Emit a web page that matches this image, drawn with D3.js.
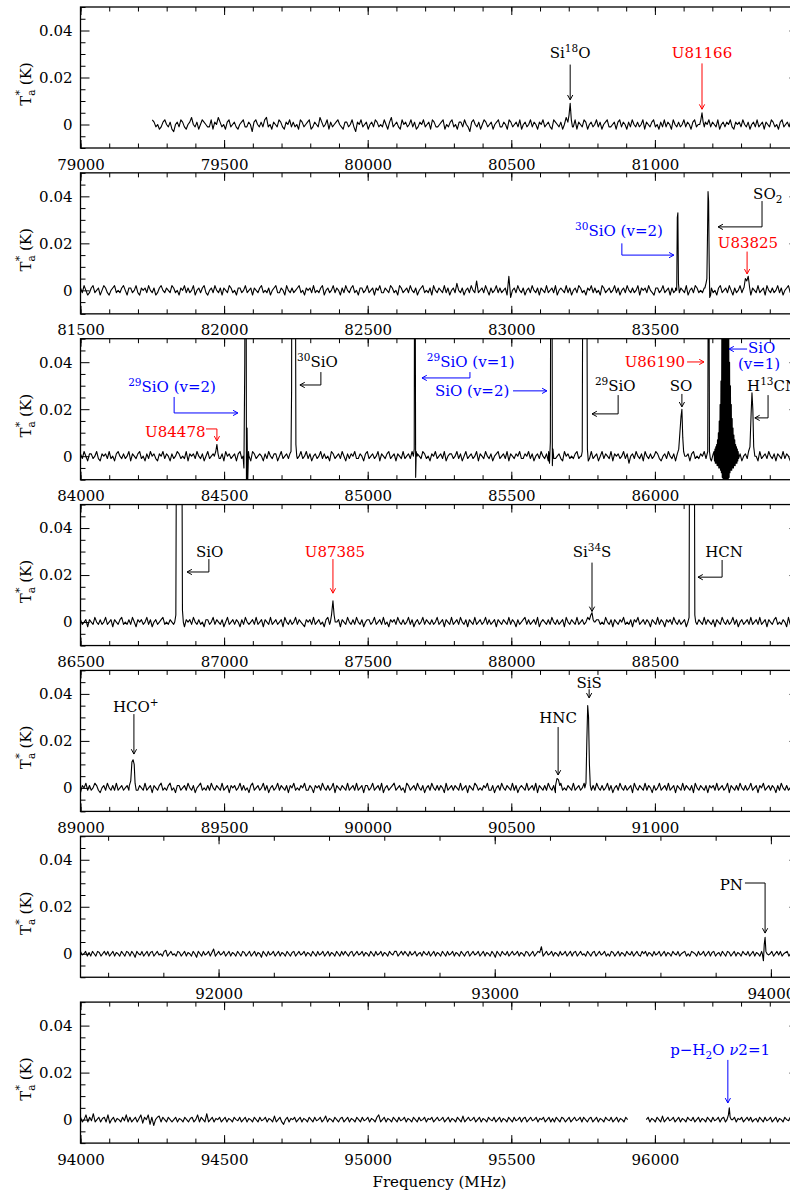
<!DOCTYPE html>
<html>
<head>
<meta charset="utf-8">
<script src="https://cdn.jsdelivr.net/npm/d3@7"></script>
<style>
  body { margin: 0; background: #fff; }
  svg { display: block; }
  text { font-family: "DejaVu Serif", serif; }
</style>
</head>
<body>
<svg id="chart" width="790" height="1191"></svg>
<script>
// ---------------------------------------------------------------
// Baseline channels of each sub-band, antenna temperature in mK.
// Each list is spread evenly between its first and last frequency.
// ---------------------------------------------------------------
const noise1 = [
  2,1,-1,0,-2,-1,1,2,0,-1,1,-2,-3,0,1,-1,2,1,-1,-2,0,1,3,0,
  -1,1,-2,0,2,1,0,-1,-1,2,-2,1,0,3,1,-1,0,-2,1,2,-1,0,1,-1,
  -2,0,1,2,-1,-1,1,0,-3,1,2,0,-1,1,-1,2,3,-1,0,-2,1,0,-1,2,
  1,-1,-2,1,0,2,-1,1,-1,0,-2,2,1,-1,0,1,2,-2,-1,1,0,-1,3,1,
  -1,0,2,-2,1,-1,0,1,2,0,-1,-2,1,1,-1,0,2,-1,-3,1,0,2,-1,0,
  1,-2,0,1,-1,2,1,-1,0,-1,2,0,-2,1,3,-1,0,1,-1,-2,2,0,1,-1,
  0,2,-1,1,-2,-1,1,0,2,-1,0,1,-2,2,1,-1,-1,0,1,2,-2,0,-1,1,
  2,-1,0,-2,1,1,-1,2,0,-1,-3,1,2,0,-1,1,-2,0,2,1,-1,0,1,-2,
  0,1,2,-1,-1,1,0,-2,2,1,-1,0,1,-1,2,-2,0,1,-1,0,2,-1,1,0,
  -2,1,0,2,-1,0,1,-1,-2,2,1,0,-1,1,-2,0,3,-1,0,1,-1,2,-2,1,
  0,-1,2,1,-2,0,1,-1,0,2,-1,1,-2,0,1,2,-1,-1,0,1,-2,1,2,-1,
  1,0,-2,1,-1,2,0,-1,1,-1,0,2,-2,1,0,-1,1,2,-1,0,-2,1,-1,2,
  -1,1,0,-2,2,0,-1,1,-1,0,2,-1,1,0,-2,1,2,-1,0,1,-1,-2,1,0,
  2,-1,1,0,-1,2,-2,0,1,-1,1,0,2,-1,-2,1,0,1,-1,2,0,-1,1,-2,
  0,1,-1,2,-1,0,1,-2,1,0,-1,2,1,-1,0,-2,1,2,-1,0,1,-1,2,0
];
const noise2 = [
  1,-1,2,0,-2,-1,1,2,-1,0,1,-2,0,2,1,-1,-2,0,1,2,-1,0,-1,1,2,
  0,-2,1,1,-1,0,2,-1,-2,1,0,1,-1,2,0,-1,1,-2,-1,1,2,0,-1,1,0,
  -1,2,1,-1,0,-2,1,0,2,-1,1,-1,0,2,-2,0,1,-1,1,2,-1,-2,0,1,-1,
  2,0,-1,1,-2,1,0,-1,2,1,-1,0,-2,1,1,-1,0,2,-1,0,1,-2,1,0,-1,
  1,2,-1,0,-1,1,-2,0,1,2,-1,-1,1,0,-2,2,0,-1,1,-1,0,1,2,-1,0,
  -2,1,0,1,-1,2,-1,0,-1,1,2,-2,0,1,-1,0,2,-1,1,0,-2,1,-1,2,0,
  -1,1,2,-1,0,-2,1,1,-1,0,2,-1,0,1,-2,1,0,2,-1,-1,1,0,-1,2,1,
  -1,0,-2,2,1,-1,0,1,-1,2,0,-1,1,-2,0,1,2,-1,0,-1,1,-2,2,0,-1,
  1,0,-1,2,-1,1,-2,0,1,-1,3,0,-1,1,-2,0,1,-1,2,0,-1,4,-1,0,1,
  -1,2,0,-2,1,-1,0,2,-1,1,-1,0,1,-2,6,-3,0,1,-1,2,0,-1,1,-2,0,
  1,-1,2,0,-1,1,-2,1,0,-1,2,-1,0,1,-1,2,-2,0,1,0,-1,2,-1,1,-2,
  0,1,-1,2,1,-1,0,-2,1,0,2,-1,1,-1,0,-2,2,1,-1,0,1,-1,0,2,-1,
  1,-2,0,1,-1,2,0,-1,1,-1,0,2,-2,1,0,1,-1,2,0,-1,-2,1,1,-1,0,
  2,-1,0,1,-2,1,-1,0,2,-1,1,0,-1,2,-2,0,1,-1,2,1,-1,0,-1,1,0,
  -1,2,1,-1,0,-2,1,2,-1,0,1,-1,2,0,-2,1,-1,0,2,-1,1,0,-1,2,-2,
  1,0,-1,2,-1,0,1,-2,2,0,-1,1,-1,0,2,-1,1,-2,0,1,2,-1,0,1,-1
];
const noise3 = [
  1,-1,2,0,-2,1,1,-1,0,2,-1,-2,1,0,1,-1,2,-1,0,-2,1,2,0,-1,1,
  -1,0,2,-2,1,0,-1,1,2,-1,0,-2,1,-1,2,0,1,-1,-2,1,0,2,-1,1,0,
  -2,1,-1,0,2,1,-1,0,-1,2,-2,1,0,1,-1,2,0,-1,1,-2,0,2,-1,0,1,
  2,-1,0,-1,1,-2,2,0,1,-1,0,1,-2,1,2,-1,0,-1,1,0,-2,2,1,-1,0,
  1,0,-2,1,-1,2,0,-1,1,1,-2,0,2,-1,0,1,-1,2,-2,0,1,-1,0,2,-1,
  0,2,-1,1,-2,0,1,-1,0,2,-1,1,-1,0,-2,2,1,-1,0,1,-1,2,0,-2,1,
  -1,1,0,2,-1,-1,1,0,-2,1,2,-1,0,1,-1,0,2,-2,1,0,-1,1,2,-1,0,
  1,-2,1,0,-1,2,-1,0,1,-1,2,0,-2,1,0,-1,2,1,-1,0,-2,1,0,2,-1,
  0,1,-1,2,-2,0,1,1,-1,0,2,-1,1,-2,0,2,-1,0,1,-1,0,2,-2,1,0,
  -1,2,0,-1,1,-2,0,1,2,-1,0,1,-1,2,-2,1,0,-1,1,0,2,-1,-1,1,0,
  2,-1,1,-2,0,1,-1,2,0,-1,1,-2,1,0,2,-1,0,1,-1,-2,2,0,1,-1,0,
  -1,1,2,-1,0,-2,1,0,1,-1,2,-1,0,1,-2,0,2,-1,1,0,-1,2,-2,1,0,
  1,-1,0,2,-1,1,-3,0,1,-1,2,0,-1,1,-2,2,0,-1,1,-1,0,2,1,-1,-2,
  0,1,-1,2,0,-1,1,-2,1,0,-1,2,-1,0,1,-2,1,2,-1,0,-1,1,0,2,-1,
  1,0,-2,1,-1,2,0,-1,1,-2,2,0,-1,1,0,-1,2,-1,1,-2,0,1,-1,2,0,
  -1,1,0,-2,2,-1,0,1,-1,2,0,-1,1,-2,1,0,-1,2,-1,1,0,-2,1,-1,1
];
const noise4 = [
  1,-1,0,1,-2,1,0,-1,2,0,-1,1,-1,0,2,-1,0,1,-2,1,0,-1,1,2,-1,
  0,-1,1,-1,2,0,-2,1,0,1,-1,0,2,-1,1,-2,0,1,-1,0,1,2,-1,0,-1,
  1,0,-1,2,-1,1,-1,0,-2,1,0,1,-1,2,0,-1,1,-1,0,-2,1,1,-1,0,2,
  -1,1,0,-1,1,-2,0,2,-1,0,1,-1,1,0,-2,1,-1,2,0,-1,0,1,-1,2,-1,
  0,1,-2,1,0,-1,2,-1,0,1,-1,0,1,-2,2,0,-1,1,-1,0,2,-1,1,0,-1,
  -2,1,0,1,-1,2,-1,0,1,-1,0,-2,1,2,-1,0,1,-1,0,1,-2,1,0,-1,2,
  0,-1,1,-1,2,0,-1,1,-2,0,1,1,-1,0,2,-1,0,1,-1,2,-1,0,-2,1,0,
  1,-1,2,0,-1,1,-1,0,2,-1,1,-2,0,1,-1,0,2,-1,1,0,-1,1,-1,0,2,
  -1,0,1,-2,1,0,-1,2,-1,0,1,-1,2,0,-1,1,-2,1,0,-1,2,-1,0,1,-1,
  0,2,-1,1,-1,0,1,-2,1,0,-1,1,0,-1,2,-1,1,0,-2,1,-1,0,1,2,-1,
  1,-1,0,1,-1,2,-2,0,1,0,-1,1,-1,2,0,-1,1,-1,0,1,-2,2,0,-1,1,
  0,-1,2,-1,0,1,-1,0,2,-1,1,-2,0,1,1,-1,0,-1,2,0,-1,1,-2,1,0,
  -1,1,0,2,-1,0,-1,1,-2,1,0,2,-1,0,1,-1,1,0,-2,1,0,-1,2,-1,1,
  0,-2,1,0,1,-1,2,0,-1,1,-1,0,1,-2,1,0,2,-1,0,-1,1,0,-1,2,-1,
  1,0,-1,1,-2,1,0,-1,2,0,-1,1,-1,0,2,-1,1,-2,0,1,-1,0,1,-1,2,
  -1,0,1,-1,2,-1,0,1,-2,1,0,-1,1,2,-1,0,-1,1,0,-2,2,-1,3,-1,1
];
const noise5 = [
  -2,1,0,2,-1,1,-1,0,2,1,-1,-2,0,1,-1,2,0,-1,1,-1,2,-1,0,1,-1,
  0,1,-1,2,-2,0,1,-1,1,0,-1,2,-1,0,1,-2,1,0,-1,1,2,-1,0,-1,1,
  2,-1,0,-2,1,1,-1,0,1,-1,2,0,-1,1,-2,0,1,2,-1,0,-1,1,-1,2,0,
  -1,1,0,-1,2,-1,0,1,-2,1,0,1,-1,0,2,-1,1,-1,0,-2,1,2,-1,0,1,
  -1,0,2,-1,1,-2,0,1,-1,0,2,-1,1,0,-1,1,-2,1,0,2,-1,0,-1,1,0,
  2,-1,-1,1,0,-2,1,0,1,-1,2,0,-1,1,-1,0,2,-2,1,0,-1,1,0,-1,2,
  -1,0,1,-1,2,-1,0,1,-2,1,1,-1,0,2,-1,0,1,-1,2,-2,0,1,-1,0,1,
  2,-1,0,1,-1,0,-2,2,1,-1,0,1,-1,2,0,-1,1,-2,0,1,-1,2,0,-1,1,
  -1,1,0,-2,2,-1,0,1,-1,1,0,-1,2,-1,0,1,-2,1,0,-1,2,1,-1,0,-1,
  1,0,2,-1,-1,1,-2,0,1,-1,2,0,-1,1,0,-1,2,-1,1,-2,0,1,0,-1,2,
  -1,0,1,-1,2,-2,1,0,-1,1,-1,2,0,-1,1,-2,0,1,2,-1,0,-1,1,0,-1,
  2,-1,0,1,-1,0,2,-2,1,0,-1,1,-1,2,0,-1,1,-1,0,2,-1,1,-2,0,1,
  -1,2,0,-1,1,-1,0,1,-2,2,0,-1,1,0,-1,2,-1,1,0,-2,1,-1,0,2,-1,
  0,1,-1,2,-1,0,1,-2,1,0,-1,2,-1,1,0,-1,1,-2,2,0,-1,1,0,-1,1,
  -2,1,0,1,-1,2,-1,0,1,-1,0,2,-2,1,0,-1,1,-1,2,0,-1,1,-1,0,2,
  -1,0,1,-2,1,0,2,-1,0,1,-1,1,0,-2,1,-1,2,0,-1,1,-1,0,2,-1,0
];
const noise6 = [
  1,-0.5,0,1,-1,0.5,-1,1,0,-1,1,0.5,-1,0,1,-0.5,1,-1,0,1,-1,0.5,0,-1,1,
  0,-1,1,0.5,-1,1,0,-1.5,1,0,-0.5,1,-1,0,1,-1,0.5,1,-1,0,1,-0.5,0,-1,1,
  1.5,-1,0,1,-0.5,0,-1,1,0.5,-1,0,1,-1,0.5,0,-1,1,0,-1.5,1,0,-1,1,-0.5,0,
  1,-1,0.5,2,-1,0,1,-0.5,0,1,-1,0,1,-1,0.5,0,-1,1,0,-1,1,0.5,-1,0,1,
  -1,0,1,-1,0.5,0,-1.5,1,0,-1,1,-0.5,0,1,-1,0,1,-1,0.5,0,-1,1,0,-1,0.5,
  1,-1,0,1,-0.5,0,1,-1,0.5,0,-1,1,0,-1,1,-0.5,0,1,-1,0,1,-1,0.5,0,-1,
  1,0,-1,1,-0.5,1,0,-1,0.5,1,-1,0,1,-0.5,0,1,-1,0.5,0,-1,1,0,-1,1,-0.5,
  0,1,-1,0.5,0,-1,1,0,-0.5,1,1,-1,0,1,-0.5,1,0,-1,1,-0.5,0,1,-1,0,0.5,
  -1,1,0,-0.5,1,-1,0,1,-1,0.5,0,-1,1,0,-1,1,-0.5,0,1,-1,0.5,0,-1,1,0,
  -1,0.5,1,-1,0,1,-0.5,0,1,-1,0,1,-1,0.5,0,-1,1,0,-1.5,1,0,-1,1,0,-0.5,
  1,-1,0,1,-0.5,0,1,-1,0.5,0,-1,1,0.5,-1,0,1,-1,0,1,0.5,3,-1,0,1,-0.5,
  0,1,-1,0.5,0,-1,1,-0.5,0,1,-1,0,1,-1,0.5,1,-1,0,1,-0.5,0,-1,1,0,-1,
  0.5,1,-1,0,1,-0.5,0,1,-1,0,-1,1,0.5,-1,0,1,-1,0.5,0,-1,1,0,-0.5,1,-1,
  0,1,-0.5,-1,1,0,1,-1,0.5,0,-1,1,-0.5,0,1,-1,0,1,-1,0.5,0,-1,1,0,-0.5,
  1,-1,0,0.5,1,-1,0,-1,1,0.5,0,-1,1,-0.5,0,1,-1,0,1,-1,0.5,1,-1,0,0.5,
  -1,1,0,-1,1,0.5,-1,0,1,-1,0.5,0,-1,1,0,-0.5,1,-1,0,1,-1,0.5,0,-1,1,
  0,-1,1,-0.5,0,1,-1,0,1,-0.5,1,-1,0,0.5,1,-1,0,1,-1,0.5
];
const noise7a = [
  1,-1,0,2,-1,1,-0.5,2.5,-1,0,1,-1,0.5,1,-1,2,-1.5,0,1,-1,0.5,0,-1,1,-0.5,
  2,-1,1,-1,0,1,-1,0.5,2,-1.5,1,0,2,-2,1,-2.5,0,1,1.5,-1,1,0,-1,1,0,
  -1,0,1,-1,0.5,0,-1,1,0,-1,0.5,1,-1,0,2,-1,1,0,-1,2.5,-1,0,1,-1,0.5,
  0,1,-1,0,1,-1,0.5,0,-1,1,0,-0.5,1,-1,0,1,-1,0.5,0,-1,1,0,-1,1,-0.5,
  0,1,-1,0.5,0,-1,1.5,-1,0,1,-1,-2,0,1,-1,0.5,0,1,-1,0,1,-1,0.5,0,-1,
  1,0,-1,1,-0.5,0,1,-1,0,1.5,-1,0.5,0,-1,1,0,-1,0.5,1,-1,0,1,-1,0.5,0,
  -1,1,0,-1,1,-0.5,0,1,-1,0.5,0,-1,1,2,-1,0,1,-1,0.5,0,-1,1,0,-1,1,
  -0.5,0,1,-1,0.5,0,-1,1,0,-1,1,-0.5,0,1,-1,0.5,0,1,-1,0,1,-0.5,0,1,-1,
  0,1,-1,0.5,0,-1,1,0,-1,1.5,-1,0,1,-0.5,0,1,-1,0,1,-1,0.5,0,-1,1,0,
  -0.5,1,-1,0,1,-1,0.5,0,-1,1,0,-1,1,-0.5,0,1,-1,0.5,1,-1,0,1,-0.5,0,1,
  -1,0.5,0,1,-1,0,1,-1,0.5,-1,1,0,-1,1,0.5,-1,0,1,-1,0,1,-0.5,0,1,-1,
  1,0,-1,0.5,1,-1,0,1,-1,0.5,0,-1,1,0,-0.5,1,-1,0,1,-1,0.5,0,-1,1,0
];
const noise7b = [
  0,1,-1,0.5,0,-1,1,0,-1,1.5,-1,0,1,-0.5,0,1,-1,0,1,-1,0.5,0,-1,1,0,
  -0.5,1,-1,0,1,-1,0.5,0,-1,1,0,-1,1,-0.5,0,1,-1,0.5,1,-1,0,1,-0.5,0,1,
  -1,0.5,0,1,-1,0,1,-0.5,1,-1,0,0.5,-1,1,0,-1,1,-0.5,0,1,-1,0,1,-1,0.5,
  0,-1,1,0,-0.5,1,-1,0,1
];

// ---------------------------------------------------------------
// Emission / maser line profiles: [frequency MHz, T in mK]
// ---------------------------------------------------------------
const lines1 = [
  [[80697,1],[80701,4],[80705,9],[80709,2],[80713,-1]],                        // Si18O
  [[81156,0],[81160,2],[81164,5],[81168,1],[81172,-1]]                         // U81166
];
const lines2 = [
  [[83572,1],[83576,0],[83578,31],[83580,33],[83582,3],[83585,-1]],            // 30SiO v=2
  [[83674,1],[83678,3],[83681,5],[83683,22],[83685,42],[83687,38],[83689,12],[83691,-3],[83694,-2]], // SO2
  [[83810,1],[83815,5],[83820,4],[83825,6],[83830,1]]                          // U83825
];
const lines3 = [
  [[84466,0],[84471,2],[84475,5],[84479,1],[84483,-1]],                        // U84478
  [[84566,0],[84569,-5],[84572,40],[84574,160],[84576,150],[84578,-30],[84580,12],[84582,-12],[84585,2]], // 29SiO v=2
  [[84729,1],[84733,2],[84735,28],[84737,200],[84746,220],[84748,100],[84750,5],[84753,0]],             // 30SiO
  [[85159,0],[85162,3],[85164,150],[85167,-9],[85169,2],[85172,0]],            // 29SiO v=1
  [[85630,2],[85633,-3],[85636,6],[85639,200],[85641,150],[85643,-4],[85645,3],[85648,-1]],             // SiO v=2
  [[85744,0],[85747,2],[85749,90],[85752,150],[85760,150],[85763,80],[85765,3],[85768,-2]],             // 29SiO
  [[86078,1],[86083,3],[86087,10],[86091,17],[86094,20],[86097,8],[86100,2],[86104,0]],                 // SO
  [[86180,0],[86184,2],[86186,90],[86188,90],[86190,2],[86193,-1]],            // U86190
  [[86206,2],[86207.5,-2],[86209,3],[86210.5,-3],[86212,4],[86213.5,-3],[86215,5],[86216.5,-4],
   [86218,7],[86219.5,-4],[86221,10],[86222.5,-5],[86224,15],[86225.5,-5],[86227,22],[86228.5,-6],
   [86230,32],[86231.5,-7],[86233,50],[86234.5,-9],[86236,75],[86237.5,-12],[86239,120],[86240.5,-18],
   [86242,200],[86243.5,-30],[86245,400],[86246.5,-45],[86248,300],[86249.5,-28],[86251,150],[86252.5,-16],
   [86254,90],[86255.5,-11],[86257,60],[86258.5,-9],[86260,40],[86261.5,-7],[86263,30],[86264.5,-6],
   [86266,22],[86267.5,-6],[86269,16],[86270.5,-5],[86272,12],[86273.5,-5],[86275,9],[86276.5,-4],
   [86278,7],[86279.5,-4],[86281,5],[86282.5,-3],[86284,4],[86285.5,-3],[86287,3],[86288.5,-2],
   [86290,2],[86291.5,-1]],                                                    // SiO v=1 maser
  [[86326,2],[86331,4],[86335,18],[86338,27],[86341,20],[86344,4],[86348,0]]   // H13CN
];
const lines4 = [
  [[86828,0],[86832,3],[86835,120],[86838,250],[86849,250],[86852,120],[86855,5],[86858,0]],            // SiO
  [[87370,0],[87374,3],[87379,9],[87383,3],[87387,0]],                         // U87385
  [[88272,1],[88277,3],[88281,4],[88285,1],[88289,0]],                         // Si34S
  [[88615,0],[88619,2],[88622,150],[88626,300],[88632,300],[88636,150],[88639,3],[88642,0]]             // HCN
];
const lines5 = [
  [[89170,1],[89175,3],[89179,11],[89183,12],[89187,10],[89190,2],[89194,-1]], // HCO+
  [[90654,1],[90659,4],[90664,3.5],[90669,1]],                                 // HNC
  [[90756,0],[90760,2],[90763,20],[90766,35],[90769,30],[90772,10],[90775,1],[90779,-1]]                // SiS
];
const lines6 = [
  [[93969,0],[93973,-3],[93976,4],[93979,7],[93982,1],[93986,0]]               // PN
];
const lines7 = [
  [[96251,0],[96256,2],[96259,5],[96262,1],[96266,0]]                          // p-H2O v2=1
];

// Axis tick values (mK on the temperature axis)
const yMajor = [0, 20, 40];
const yMinor = [-10, -5, 5, 10, 15, 25, 30, 35, 45, 50];

// ---------------------------------------------------------------
// Line identifications: label pieces, text anchor and leader line
// (in MHz / mK). Piece flags: 1 = superscript, -1 = subscript.
// ---------------------------------------------------------------
const RED = "#ff0000", BLUE = "#0000ff", BLACK = "#000000";
const notes1 = [
  { parts: [["Si"], ["18", 1], ["O"]], at: [80705, 28.5], anchor: "middle", color: BLACK, path: [[80705, 25.5], [80705, 10.5]] },
  { parts: [["U81166"]], at: [81164, 28.5], anchor: "middle", color: RED, path: [[81164, 26], [81164, 6.5]] }
];
const notes2 = [
  { parts: [["SO"], ["2", -1]], at: [83842, 39], anchor: "start", color: BLACK, path: [[83873, 38], [83873, 27], [83720, 27]] },
  { parts: [["30", 1], ["SiO (v=2)"]], at: [83222, 23], anchor: "start", color: BLUE, path: [[83385, 20], [83385, 15], [83566, 15]] },
  { parts: [["U83825"]], at: [83824, 18], anchor: "middle", color: RED, path: [[83821, 16.5], [83821, 7]] }
];
const notes3 = [
  { parts: [["29", 1], ["SiO (v=2)"]], at: [84166, 27.3], anchor: "start", color: BLUE, path: [[84326, 25.2], [84326, 18.4], [84548, 18.4]] },
  { parts: [["U84478"]], at: [84225, 8.2], anchor: "start", color: RED, path: [[84437, 11.6], [84475, 11.6], [84475, 6.5]] },
  { parts: [["30", 1], ["SiO"]], at: [84754, 38], anchor: "start", color: BLACK, path: [[84837, 35.8], [84837, 30.3], [84764, 30.3]] },
  { parts: [["29", 1], ["SiO (v=1)"]], at: [85206, 38], anchor: "start", color: BLUE, path: [[85356, 35.8], [85356, 33.3], [85189, 33.3]] },
  { parts: [["SiO (v=2)"]], at: [85234, 25.6], anchor: "start", color: BLUE, path: [[85506, 27.8], [85624, 27.8]] },
  { parts: [["29", 1], ["SiO"]], at: [85791, 27.7], anchor: "start", color: BLACK, path: [[85872, 26], [85872, 18], [85781, 18]] },
  { parts: [["SO"]], at: [86091, 27.7], anchor: "middle", color: BLACK, path: [[86094, 26.5], [86094, 21]] },
  { parts: [["U86190"]], at: [86105, 38], anchor: "end", color: RED, path: [[86112, 40.1], [86171, 40.1]] },
  { parts: [["SiO"]], at: [86324, 44.0], anchor: "start", color: BLUE, path: [[86321, 45.6], [86258, 45.6]] },
  { parts: [["(v=1)"]], at: [86289, 37.0], anchor: "start", color: BLUE },
  { parts: [["H"], ["13", 1], ["CN"]], at: [86321, 27.7], anchor: "start", color: BLACK, path: [[86394, 26], [86394, 16.3], [86348, 16.3]] }
];
const notes4 = [
  { parts: [["SiO"]], at: [86902, 27.7], anchor: "start", color: BLACK, path: [[86947, 26.8], [86947, 21.3], [86871, 21.3]] },
  { parts: [["U87385"]], at: [87386, 27.7], anchor: "middle", color: RED, path: [[87379, 26.8], [87379, 12.3]] },
  { parts: [["Si"], ["34", 1], ["S"]], at: [88281, 27.7], anchor: "middle", color: BLACK, path: [[88281, 25.3], [88281, 4.5]] },
  { parts: [["HCN"]], at: [88675, 27.7], anchor: "start", color: BLACK, path: [[88734, 26.4], [88734, 19.1], [88650, 19.1]] }
];
const notes5 = [
  { parts: [["HCO"], ["+", 1]], at: [89113, 32.3], anchor: "start", color: BLACK, path: [[89186, 31.4], [89186, 14.4]] },
  { parts: [["HNC"]], at: [90663, 27.6], anchor: "middle", color: BLACK, path: [[90663, 25.9], [90663, 5.5]] },
  { parts: [["SiS"]], at: [90771, 42.5], anchor: "middle", color: BLACK, path: [[90771, 42], [90771, 38.3]] }
];
const notes6 = [
  { parts: [["PN"]], at: [93899, 27.1], anchor: "end", color: BLACK, path: [[93906, 30.1], [93979, 30.1], [93979, 8.8]] }
];
const notes7 = [
  { parts: [["p\u2212H"], ["2", -1], ["O "], ["\u03bd", 0, "italic"], ["2=1"]], at: [96227, 27.5], anchor: "middle", color: BLUE, path: [[96254, 25.4], [96254, 7.1]] }
];

// Sub-bands: frequency range, baseline segments, lines, labels, tick steps
const bands = [
  { lo: 79000, hi: 81500, base: [[79250, 81480, noise1]], lines: lines1, notes: notes1, major: 500, minor: 100 },
  { lo: 81500, hi: 84000, base: [[81500, 83990, noise2]], lines: lines2, notes: notes2, major: 500, minor: 100 },
  { lo: 84000, hi: 86500, base: [[84000, 86490, noise3]], lines: lines3, notes: notes3, major: 500, minor: 100 },
  { lo: 86500, hi: 89000, base: [[86500, 88990, noise4]], lines: lines4, notes: notes4, major: 500, minor: 100 },
  { lo: 89000, hi: 91500, base: [[89000, 91490, noise5]], lines: lines5, notes: notes5, major: 500, minor: 100 },
  { lo: 91500, hi: 94100, base: [[91500, 94090, noise6]], lines: lines6, notes: notes6, major: 1000, minor: 200 },
  { lo: 94000, hi: 96500, base: [[94000, 95905, noise7a], [95970, 96490, noise7b]], lines: lines7, notes: notes7, major: 500, minor: 100 }
];

// ---------------------------------------------------------------
// Layout
// ---------------------------------------------------------------
const LEFT = 80.5, RIGHT = 798.5, PANEL_H = 141, STEP = 165.85, TOP0 = 7;
const FONT = "DejaVu Serif";
const svg = d3.select("#chart");
svg.append("rect").attr("width", 790).attr("height", 1191).attr("fill", "#fff");

function ticksEvery(lo, hi, step) {
  const out = [];
  for (let v = Math.ceil(lo / step) * step; v <= hi + 1e-6; v += step) out.push(v);
  return out;
}

function drawLabel(g, parts, px, py, anchor, color) {
  const t = g.append("text")
    .attr("x", px).attr("y", py)
    .attr("text-anchor", anchor)
    .attr("fill", color)
    .attr("font-family", FONT)
    .attr("font-size", 15);
  let shift = 0;
  parts.forEach(([s, kind, style]) => {
    const target = kind === 1 ? -6 : (kind === -1 ? 4 : 0);
    const ts = t.append("tspan").text(s).attr("dy", target - shift);
    shift = target;
    if (kind === 1 || kind === -1) ts.attr("font-size", 10.5);
    if (style) ts.attr("font-style", style);
  });
}

function buildSpectrum(band) {
  let pts = [];
  band.base.forEach(([f0, f1, vals], si) => {
    if (si > 0) pts.push([(pts[pts.length - 1][0] + f0) / 2, null]);
    const n = vals.length;
    vals.forEach((v, k) => pts.push([f0 + (f1 - f0) * k / (n - 1), v]));
  });
  band.lines.forEach(group => {
    const a = group[0][0], b = group[group.length - 1][0];
    pts = pts.filter(d => d[0] < a || d[0] > b);
    pts = pts.concat(group);
  });
  pts.sort((p, q) => p[0] - q[0]);
  return pts;
}

bands.forEach((band, i) => {
  const top = TOP0 + i * STEP, bottom = top + PANEL_H;
  const x = d3.scaleLinear().domain([band.lo, band.hi]).range([LEFT, RIGHT]);
  const y = d3.scaleLinear().domain([-10, 50]).range([bottom, top]);
  const g = svg.append("g");

  const clipId = "clip" + i;
  svg.append("clipPath").attr("id", clipId)
    .append("rect").attr("x", LEFT).attr("y", top).attr("width", RIGHT - LEFT).attr("height", PANEL_H);

  // spectrum
  const pts = buildSpectrum(band);
  const line = d3.line().defined(d => d[1] !== null).x(d => x(d[0])).y(d => y(d[1]));
  g.append("path")
    .datum(pts)
    .attr("clip-path", `url(#${clipId})`)
    .attr("d", line)
    .attr("fill", "none")
    .attr("stroke", "#000")
    .attr("stroke-width", 1.1)
    .attr("stroke-linejoin", "round");

  // ticks
  const majors = ticksEvery(band.lo, band.hi, band.major);
  const minors = ticksEvery(band.lo, band.hi, band.minor);
  const labelled = majors.filter(v => v < band.hi - 1);

  const styleAxis = sel => {
    sel.attr("font-family", FONT).attr("font-size", 15);
    sel.select(".domain").remove();
    sel.selectAll("line").attr("stroke", "#000");
    sel.selectAll("text").attr("fill", "#000");
  };

  g.append("g").attr("transform", `translate(0,${bottom})`)
    .call(d3.axisBottom(x).tickValues(minors).tickSizeInner(-4.5).tickSizeOuter(0).tickFormat(""))
    .call(styleAxis);
  g.append("g").attr("transform", `translate(0,${bottom})`)
    .call(d3.axisBottom(x).tickValues(labelled).tickSizeInner(-8).tickSizeOuter(0).tickPadding(11).tickFormat(d3.format("d")))
    .call(styleAxis);
  g.append("g").attr("transform", `translate(0,${top})`)
    .call(d3.axisTop(x).tickValues(minors).tickSizeInner(-4.5).tickSizeOuter(0).tickFormat(""))
    .call(styleAxis);
  g.append("g").attr("transform", `translate(0,${top})`)
    .call(d3.axisTop(x).tickValues(majors).tickSizeInner(-8).tickSizeOuter(0).tickFormat(""))
    .call(styleAxis);

  g.append("g").attr("transform", `translate(${LEFT},0)`)
    .call(d3.axisLeft(y).tickValues(yMinor).tickSizeInner(-5).tickSizeOuter(0).tickFormat(""))
    .call(styleAxis);
  g.append("g").attr("transform", `translate(${LEFT},0)`)
    .call(d3.axisLeft(y).tickValues(yMajor).tickSizeInner(-9).tickSizeOuter(0).tickPadding(8)
      .tickFormat(d => d === 0 ? "0" : (d / 1000).toFixed(2)))
    .call(styleAxis);
  g.append("g").attr("transform", `translate(${RIGHT},0)`)
    .call(d3.axisRight(y).tickValues(yMinor).tickSizeInner(-5).tickSizeOuter(0).tickFormat(""))
    .call(styleAxis);
  g.append("g").attr("transform", `translate(${RIGHT},0)`)
    .call(d3.axisRight(y).tickValues(yMajor).tickSizeInner(-9).tickSizeOuter(0).tickFormat(""))
    .call(styleAxis);

  // frame
  g.append("rect")
    .attr("x", LEFT).attr("y", top).attr("width", RIGHT - LEFT).attr("height", PANEL_H)
    .attr("fill", "none").attr("stroke", "#000").attr("stroke-width", 1.3);

  // temperature axis title  T_a^* (K)
  const yt = g.append("text")
    .attr("transform", `translate(31,${top + 77}) rotate(-90)`)
    .attr("text-anchor", "middle")
    .attr("font-family", FONT)
    .attr("font-size", 15)
    .attr("fill", "#000");
  yt.append("tspan").text("T");
  yt.append("tspan").text("a").attr("font-size", 10.5).attr("dy", 4);
  yt.append("tspan").text("*").attr("font-size", 11).attr("dx", -6).attr("dy", -12);
  yt.append("tspan").text(" (K)").attr("dy", 8);

  // identifications
  band.notes.forEach(n => {
    if (n.path) {
      const pp = n.path.map(([f, t]) => [x(f), y(t)]);
      g.append("path").attr("d", d3.line()(pp))
        .attr("fill", "none").attr("stroke", n.color).attr("stroke-width", 1);
      const [x1, y1] = pp[pp.length - 2], [x2, y2] = pp[pp.length - 1];
      const ang = Math.atan2(y2 - y1, x2 - x1), len = 5.5, spread = 0.5;
      const head = [
        [x2 - len * Math.cos(ang - spread), y2 - len * Math.sin(ang - spread)],
        [x2, y2],
        [x2 - len * Math.cos(ang + spread), y2 - len * Math.sin(ang + spread)]
      ];
      g.append("path").attr("d", d3.line()(head))
        .attr("fill", "none").attr("stroke", n.color).attr("stroke-width", 1);
    }
    drawLabel(g, n.parts, x(n.at[0]), y(n.at[1]), n.anchor, n.color);
  });
});

// frequency axis title
svg.append("text")
  .attr("x", (LEFT + RIGHT) / 2).attr("y", 1187)
  .attr("text-anchor", "middle")
  .attr("font-family", FONT).attr("font-size", 15)
  .text("Frequency (MHz)");
</script>
</body>
</html>
